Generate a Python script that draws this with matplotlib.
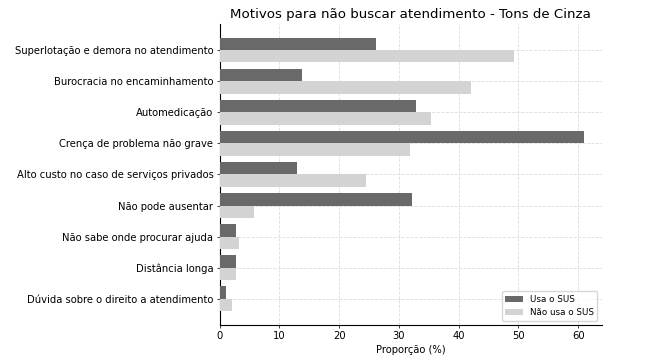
import matplotlib
matplotlib.use("Agg")
import matplotlib.pyplot as plt
import numpy as np

categorias = [
    "Superlotação e demora no atendimento",
    "Burocracia no encaminhamento",
    "Automedicação",
    "Crença de problema não grave",
    "Alto custo no caso de serviços privados",
    "Não pode ausentar",
    "Não sabe onde procurar ajuda",
    "Distância longa",
    "Dúvida sobre o direito a atendimento",
]
usa_sus = [26.1, 13.7, 32.9, 60.9, 13.0, 32.1, 2.8, 2.7, 1.1]
nao_usa_sus = [49.2, 42.0, 35.3, 31.8, 24.4, 5.7, 3.2, 2.7, 2.0]

s = 0.65
fig = plt.figure(figsize=(6.52, 3.56), dpi=100)
ax = fig.add_axes([0.337, 0.087, 0.586, 0.846])

y = np.arange(len(categorias))
h = 0.4
ax.barh(y - h / 2, usa_sus, height=h, color="#696969", label="Usa o SUS", zorder=3)
ax.barh(y + h / 2, nao_usa_sus, height=h, color="#d3d3d3", label="Não usa o SUS", zorder=3)

ax.set_yticks(y)
ax.set_yticklabels(categorias, fontsize=7.2)
ax.invert_yaxis()
ax.tick_params(axis="both", labelsize=7.2, length=3.5 * s, pad=3.5 * s, width=0.8 * s)
ax.set_xlabel("Proporção (%)", fontsize=7.2, labelpad=4 * s)
ax.set_title("Motivos para não buscar atendimento - Tons de Cinza", fontsize=9.6, pad=6 * s)
ax.grid(True, linestyle="--", linewidth=0.6, color="#dddddd", zorder=0)
ax.spines["top"].set_visible(False)
ax.spines["right"].set_visible(False)
ax.spines["left"].set_linewidth(0.8)
ax.spines["bottom"].set_linewidth(0.8)
ax.legend(loc="lower right", fontsize=6.3)

fig.savefig("out.png", dpi=100)
